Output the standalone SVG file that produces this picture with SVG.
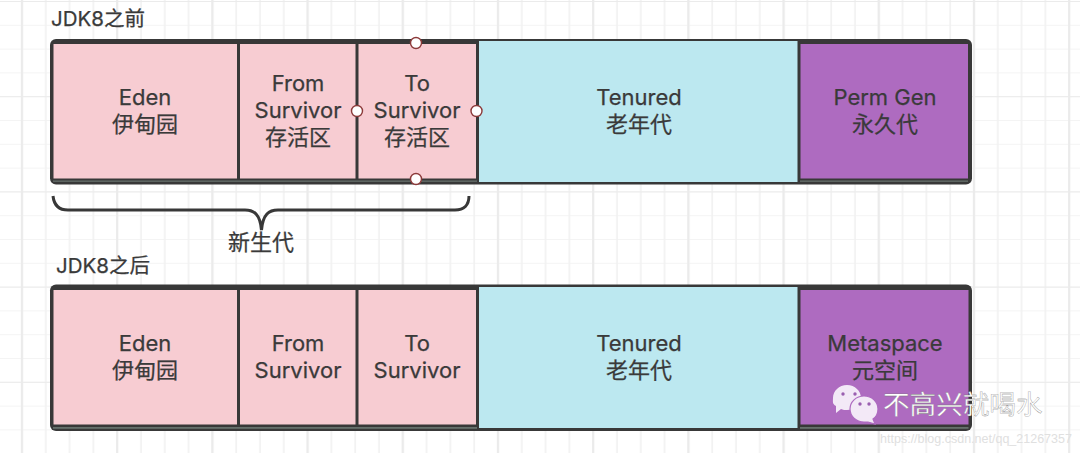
<svg xmlns="http://www.w3.org/2000/svg" width="1080" height="453" viewBox="0 0 1080 453">
<defs>
<pattern id="g" width="23.8" height="23.8" patternUnits="userSpaceOnUse" x="10" y="1"><path d="M12 0V23.8M0 0H23.8" stroke="#f1f1f1" stroke-width="1.6" fill="none"/></pattern>
<pattern id="m" width="95.2" height="95.2" patternUnits="userSpaceOnUse" x="10" y="1"><path d="M12 0V95.2M0 0H95.2" stroke="#ebebeb" stroke-width="2.2" fill="none"/></pattern>
</defs>
<style>
text{font-family:"Inter","Noto Sans CJK SC",sans-serif;font-size:22px;fill:#3a3a3a;text-anchor:middle;stroke:#3a3a3a;stroke-width:.25}
.l{text-anchor:start;font-size:20.5px}
.p{fill:#f7ccd2}.b{fill:#bce8f0}.v{fill:#ae6bc0}
.s{fill:#66706c}
.h{fill:#fff;stroke:#8c3a3a;stroke-width:1.4}
.wm{fill:#fff;font-size:26.6px;text-anchor:start;font-family:"Noto Sans CJK SC",sans-serif;stroke:#777;stroke-width:.3}
.bub{fill:#f3e9f7}
.eye{fill:#9a5fb0}
</style>
<rect width="1080" height="453" fill="#fff"/>
<rect width="1080" height="453" fill="url(#g)"/>
<rect width="1080" height="453" fill="url(#m)"/>
<text class="l" x="51" y="26">JDK8之前</text>
<text class="l" x="56" y="273">JDK8之后</text>
<g id="top-row">
<rect x="50" y="39" width="922" height="145.500" rx="6" fill="#383838"/>
<rect class="s" x="53" y="180.500" width="424" height="1.300"/><rect class="s" x="800" y="180.500" width="168" height="1.300"/>
<g id="t-eden"><rect class="p" x="53.500" y="44" width="183.500" height="134.500"/><text x="145" y="105">Eden</text><text x="145" y="132">伊甸园</text></g>
<g id="t-from"><rect class="p" x="240" y="44" width="115.500" height="134.500"/><text x="298" y="91">From</text><text x="298" y="118">Survivor</text><text x="298" y="145">存活区</text></g>
<g id="t-to"><rect class="p" x="358.500" y="44" width="117.500" height="134.500"/><text x="417" y="91">To</text><text x="417" y="118">Survivor</text><text x="417" y="145">存活区</text></g>
<g id="t-tenured"><rect class="b" x="479" y="41" width="318.500" height="141"/><text x="639" y="105">Tenured</text><text x="639" y="132">老年代</text></g>
<g id="t-perm"><rect class="v" x="800.500" y="44" width="167.500" height="134.500"/><text x="885" y="105">Perm Gen</text><text x="885" y="132">永久代</text></g>
</g>
<g id="bottom-row">
<rect x="50" y="284.500" width="922" height="146.500" rx="6" fill="#383838"/>
<rect class="s" x="53" y="427" width="424" height="1.800"/><rect class="s" x="800" y="427" width="168.500" height="1.800"/>
<g id="b-eden"><rect class="p" x="53.500" y="290" width="183.500" height="134.500"/><text x="145" y="351">Eden</text><text x="145" y="378">伊甸园</text></g>
<g id="b-from"><rect class="p" x="240" y="290" width="115.500" height="134.500"/><text x="298" y="351">From</text><text x="298" y="378">Survivor</text></g>
<g id="b-to"><rect class="p" x="358.500" y="290" width="117.500" height="134.500"/><text x="417" y="351">To</text><text x="417" y="378">Survivor</text></g>
<g id="b-tenured"><rect class="b" x="479" y="287" width="318.500" height="141"/><text x="639" y="351">Tenured</text><text x="639" y="378">老年代</text></g>
<g id="b-meta"><rect class="v" x="800.500" y="290" width="168" height="134.500"/><text x="885" y="351">Metaspace</text><text x="885" y="378">元空间</text></g>
</g>
<g id="connectors">
<path d="M53 196C54 205 59 210 68 210H245C254 210 260 214 261.500 230C263 214 269 210 278 210H455C464 210 469 205 469 196" fill="none" stroke="#383838" stroke-width="3"/>
</g>
<g id="handles">
<circle class="h" cx="416" cy="43" r="5.500"/><circle class="h" cx="357" cy="111" r="5.500"/><circle class="h" cx="476.500" cy="111" r="5.500"/><circle class="h" cx="416" cy="179" r="5.500"/>
</g>
<g id="label"><text x="261" y="250">新生代</text></g>
<g id="watermark">
<path class="bub" d="M847 385C855 385 861 391 861 398C861 405 855 410 847 410C845 410 843 410 841 409L836 413L836 406C832 404 833 401 833 398C833 391 839 385 847 385Z"/>
<circle class="eye" cx="843" cy="394" r="1.700"/><circle class="eye" cx="855" cy="394" r="1.700"/>
<path class="bub" stroke="#ae6bc0" stroke-width="1.200" d="M864 396C872 396 878 402 878 409C878 413 876 417 873 419L875 424L868 422C866 422 865 422 864 422C856 422 850 416 850 409C850 402 856 396 864 396Z"/>
<circle class="eye" cx="860" cy="404" r="1.700"/><circle class="eye" cx="869" cy="404" r="1.700"/>
<text class="wm" x="883" y="414">不高兴就喝水</text>
<text x="976" y="443" style="font-family:'Liberation Sans',sans-serif;font-size:12.500px;fill:#e0e0e0;stroke:none">https://blog.csdn.net/qq_21267357</text>
</g>
</svg>
